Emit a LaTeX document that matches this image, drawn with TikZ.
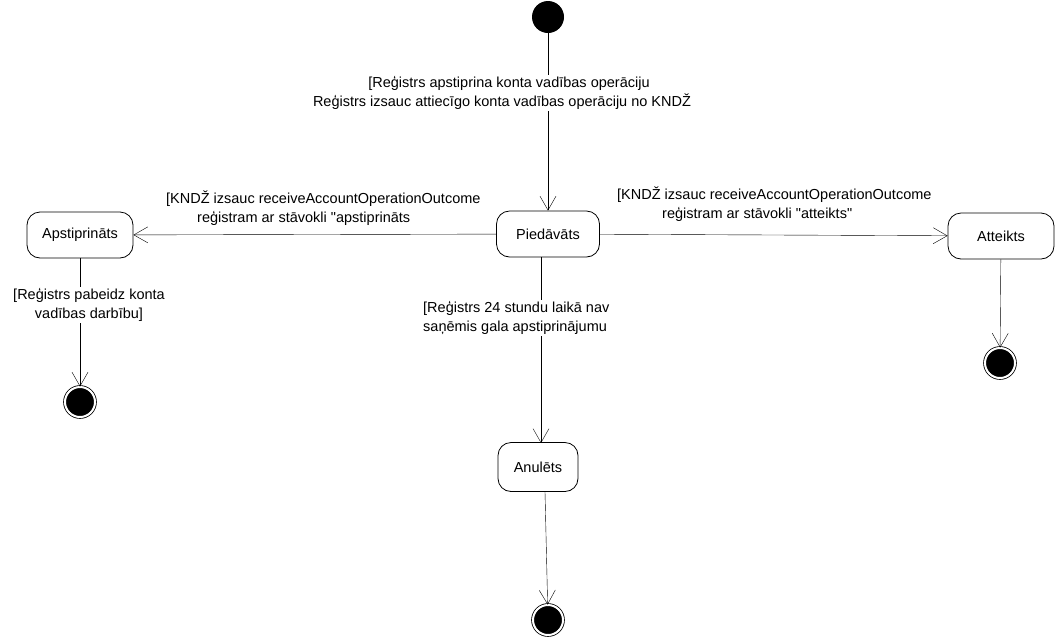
\documentclass[tikz,border=0pt]{standalone}
\usepackage{fontspec}
\setmainfont{Liberation Sans}
\usetikzlibrary{arrows.meta}
\begin{document}
\begin{tikzpicture}[x=1pt,y=-1pt,
  every node/.style={font=\fontsize{14.5}{19.5}\selectfont},
  state/.style={draw,thick,rounded corners=13pt,minimum height=46pt,inner sep=0pt},
  initnode/.style={circle,fill=black,minimum size=32pt,inner sep=0pt},
  finalnode/.style={circle,draw,thick,fill=black,double=white,double distance=2pt,minimum size=30pt,inner sep=0pt},
  flow/.style={draw,-{Straight Barb[length=14pt,width=16pt]}},
  lbl/.style={fill=white,inner sep=1pt}]
\useasboundingbox (0,0) rectangle (1055,638);
\node[initnode] (init) at (548,17) {};
\node[state,minimum width=103pt] (pied) at (548,234) {Piedāvāts};
\node[state,minimum width=106pt] (apst) at (80,235) {Apstiprināts};
\node[state,minimum width=106pt] (att) at (1001,236) {Atteikts};
\node[state,minimum width=80pt,minimum height=49pt] (anul) at (538,467) {Anulēts};
\node[finalnode] (f1) at (80,402) {};
\node[finalnode] (f2) at (1000,363) {};
\node[finalnode] (f3) at (548,620) {};

\draw[flow] (init) -- (pied);
\node[lbl,align=center] (l1) at (502,93) {\hspace*{14pt}[Reģistrs apstiprina konta vadības operāciju\\Reģistrs izsauc attiecīgo konta vadības operāciju no KNDŽ};

\draw[flow] (pied) -- (apst);
\node[align=left,anchor=west,inner sep=0pt] (l2) at (166,208) {[KNDŽ izsauc receiveAccountOperationOutcome\\\hspace*{31pt}reģistram ar stāvokli \textquotedbl apstiprināts};

\draw[flow] (pied) -- (att);
\node[align=left,anchor=west,inner sep=0pt] (l3) at (617,204) {[KNDŽ izsauc receiveAccountOperationOutcome\\\hspace*{45pt}reģistram ar stāvokli \textquotedbl atteikts\textquotedbl};

\coordinate (pb) at (541,257);
\coordinate (at) at (541,443);
\draw[flow] (pb) -- (at);
\node[lbl,align=left,anchor=west] (l4) at (422,318) {[Reģistrs 24 stundu laikā nav\\saņēmis gala apstiprinājumu};

\draw[flow] (apst) -- (f1);
\node[lbl,align=center] (l5) at (89,305) {[Reģistrs pabeidz konta\\vadības darbību]};

\draw[flow] (att) -- (f2);
\draw[flow] (anul.south -| 545,0) -- (f3);
\end{tikzpicture}
\end{document}
